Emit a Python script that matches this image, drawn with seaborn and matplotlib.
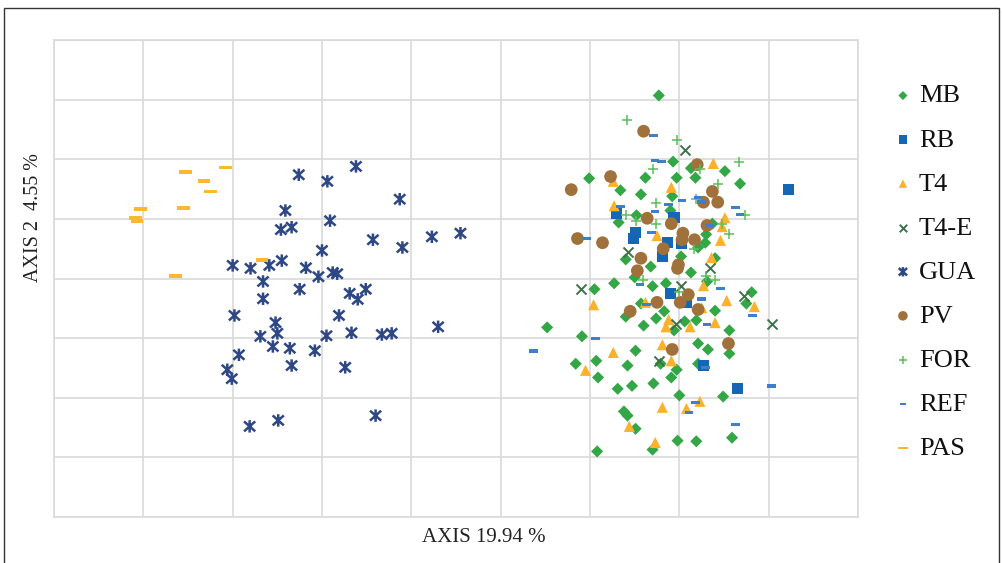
import numpy as np
import pandas as pd
import matplotlib
matplotlib.use("Agg")
import matplotlib.pyplot as plt
import matplotlib.patches as mpatches
from matplotlib.path import Path
from matplotlib.markers import MarkerStyle
import seaborn as sns

# ---------------- data (axis units) ----------------
MB_x = [-0.23, -0.38, -1.01, -0.66, -0.43, -0.07, 0.13, 0.51, -0.03, 0.18, 0.68, -0.08, -0.10, -0.48,
        -0.68, 0.37, 0.30, 0.29, 0.21, -0.60, 0.02, -0.32, -0.50, -0.30, -0.73, -0.95, -0.15, 0.13,
        0.31, 0.40, 0.81, 0.75, -0.43, -0.17, -0.60, -0.26, -0.40, 0.40, 0.19, 0.06, -0.06, 0.56,
        -1.48, -1.09, -0.49, -1.16, -0.93, -0.58, -0.91, -0.69, -0.53, -0.29, -0.09, 0.21, 0.32,
        0.56, -0.21, -0.03, 0.00, 0.49, -0.62, -0.58, -0.49, 0.59, -0.02, 0.19, -0.30, -0.92, 0.21]
MB_y = [3.07, 1.69, 1.68, 1.48, 1.41, 1.96, 1.85, 1.80, 1.69, 1.69, 1.59, 1.38, 1.14, 1.06,
        0.94, 0.92, 0.74, 0.60, 0.52, 0.32, 0.37, 0.20, 0.02, -0.13, -0.08, -0.18, -0.08, 0.10,
        -0.05, 0.34, -0.23, -0.42, -0.42, -0.55, -0.64, -0.67, -0.79, -0.54, -0.70, -0.72, -0.87, -0.87,
        -0.82, -0.97, -1.21, -1.43, -1.38, -1.46, -1.66, -1.85, -1.80, -1.76, -1.66, -1.09, -1.19,
        -1.26, -1.43, -1.53, -1.96, -1.98, -2.23, -2.30, -2.52, -2.67, -2.72, -2.73, -2.87, -2.90, -1.43]

RB_x = [1.22, -0.70, -0.06, -0.49, -0.51, -0.13, 0.02, -0.19, -0.10, 0.08, 0.27, 0.65]
RB_y = [1.49, 1.09, 1.02, 0.77, 0.67, 0.60, 0.59, 0.37, -0.25, -0.40, -1.46, -1.85]

T4_x = [-0.74, -0.73, -0.09, 0.38, 0.51, 0.48, 0.46, -0.25, 0.36, 0.27, -0.96, -0.38, 0.53, 0.84,
        0.25, 0.40, -0.15, 0.12, -0.12, -0.19, -0.09, -0.74, -1.05, 0.23, -0.19, 0.08, -0.56, -0.27]
T4_y = [1.63, 1.22, 1.53, 1.93, 1.02, 0.87, 0.64, 0.72, 0.35, -0.12, -0.44, -0.40, -0.37, -0.47,
        -0.49, -0.74, -0.81, -0.81, -0.69, -1.11, -1.38, -1.24, -1.54, -2.06, -2.16, -2.18, -2.48, -2.75]

T4E_x = [0.06, -0.57, -1.10, 0.02, 0.34, 0.72, 1.04, -0.04, -0.23]
T4E_y = [2.16, 0.44, -0.18, -0.12, 0.18, -0.30, -0.77, -0.76, -1.38]

GUA_x = [-4.41, -4.46, -4.34, -5.00, -4.80, -4.59, -4.45, -4.66, -4.66, -4.98, -4.52, -4.50, -4.69,
         -4.55, -4.36, -4.93, -4.34, -5.06, -5.01, -4.81, -4.49, -4.26, -3.94, -3.62, -3.13, -3.91,
         -3.43, -3.10, -2.77, -2.45, -4.00, -4.18, -4.04, -3.88, -3.83, -4.25, -3.69, -3.51, -3.60,
         -3.81, -2.70, -3.95, -3.67, -3.33, -3.22, -4.08, -3.74, -3.40]
GUA_y = [1.14, 0.82, 0.86, 0.22, 0.17, 0.22, 0.30, -0.05, -0.34, -0.62, -0.74, -0.92, -0.97,
         -1.14, -1.17, -1.28, -1.46, -1.53, -1.68, -2.48, -2.38, 1.74, 1.63, 1.88, 1.33, 0.97,
         0.65, 0.52, 0.70, 0.76, 0.47, 0.18, 0.03, 0.10, 0.08, -0.18, -0.25, -0.18, -0.35,
         -0.62, -0.81, -0.96, -0.91, -0.94, -0.92, -1.21, -1.49, -2.30]

PV_x = [-0.40, 0.20, -0.77, -1.21, 0.37, 0.43, 0.27, -0.36, -0.09, 0.31, 0.04, 0.03, 0.17, -0.18,
        -1.14, -0.86, -0.43, -0.47, -0.01, -0.02, 0.10, 0.01, -0.25, 0.21, -0.55, 0.55, -0.08]
PV_y = [2.47, 1.91, 1.71, 1.49, 1.46, 1.28, 1.28, 1.01, 0.92, 0.89, 0.76, 0.65, 0.65, 0.50,
        0.67, 0.60, 0.34, 0.13, 0.23, 0.17, -0.27, -0.40, -0.40, -0.52, -0.55, -1.09, -1.19]

FOR_x = [-0.59, -0.03, 0.67, -0.30, 0.23, 0.43, 0.19, -0.26, -0.60, -0.48, -0.26, 0.48, 0.56, 0.73,
         0.16, 0.30, 0.40, -0.41, 0.00]
FOR_y = [2.65, 2.33, 1.96, 1.83, 1.83, 1.59, 1.34, 1.26, 1.07, 0.97, 0.91, 0.91, 0.74, 1.07,
         0.49, 0.05, -0.03, -0.02, -0.23]

REF_x = [-0.29, -0.27, -0.20, 0.03, 0.21, 0.25, -0.12, -0.66, -0.27, 0.63, 0.68, 0.34, -0.31, -1.04,
         -0.44, 0.46, 0.25, -0.37, 0.82, 0.31, -1.63, -0.94, 0.29, 1.03, 0.18, 0.11, 0.63]
REF_y = [2.40, 1.98, 1.96, 1.31, 1.36, 1.28, 1.24, 1.21, 1.12, 1.19, 1.07, 0.89, 0.77, 0.67,
         -0.10, -0.17, -0.34, -0.44, -0.62, -0.77, -1.22, -1.01, -1.49, -1.80, -2.08, -2.25, -2.45]

PAS_x = [-5.53, -5.08, -5.32, -5.25, -6.03, -5.55, -6.09, -6.07, -4.67, -5.64]
PAS_y = [1.79, 1.86, 1.63, 1.46, 1.17, 1.18, 1.01, 0.96, 0.31, 0.04]

series_names = ["MB", "RB", "T4", "T4-E", "GUA", "PV", "FOR", "REF", "PAS"]
series_x = [MB_x, RB_x, T4_x, T4E_x, GUA_x, PV_x, FOR_x, REF_x, PAS_x]
series_y = [MB_y, RB_y, T4_y, T4E_y, GUA_y, PV_y, FOR_y, REF_y, PAS_y]

x_label = "AXIS 19.94 %"
y_label = "AXIS 2  4.55 %"

# ---------------- styles ----------------
ref_marker = [(-1.1, -0.45), (1.1, -0.45), (1.1, 0.45), (-1.1, 0.45), (-1.1, -0.45)]
pas_marker = [(-1.5, -0.45), (1.5, -0.45), (1.5, 0.45), (-1.5, 0.45), (-1.5, -0.45)]
star_path = Path([(0, -1), (0, 1), (-0.9, -0.8), (0.9, 0.8), (-0.9, 0.8), (0.9, -0.8)],
                 [Path.MOVETO, Path.LINETO, Path.MOVETO, Path.LINETO, Path.MOVETO, Path.LINETO])
star_marker = MarkerStyle(star_path, fillstyle="none")

styles = {
    "MB":   dict(marker="D", color="#33A645", s=38, lw=0),
    "RB":   dict(marker="s", color="#1567B6", s=64, lw=0),
    "T4":   dict(marker="^", color="#FDB12A", s=64, lw=0),
    "T4-E": dict(marker="x", color="#3E7049", s=52, lw=1.4),
    "GUA":  dict(marker=star_marker, color="#2E4886", s=80, lw=1.8),
    "PV":   dict(marker="o", color="#A0713A", s=84, lw=0),
    "FOR":  dict(marker="+", color="#5DBE5B", s=54, lw=1.1),
    "REF":  dict(marker=ref_marker, color="#3B80C9", s=38, lw=0),
    "PAS":  dict(marker=pas_marker, color="#FDB830", s=82, lw=0),
}

sns.set_style("white")
plt.rcParams["font.family"] = ["Liberation Serif", "DejaVu Serif"]

fig = plt.figure(figsize=(10.03, 5.63), dpi=100)
W, H = 1003, 563
ax = fig.add_axes([54 / W, 1 - 517 / H, 804 / W, 477 / H])

for i, (name, xs, ys) in enumerate(zip(series_names, series_x, series_y)):
    df = pd.DataFrame({"x": xs, "y": ys})
    st = styles[name]
    kw = dict(data=df, x="x", y="y", ax=ax, marker=st["marker"], color=st["color"],
              s=st["s"], label=name, zorder=3 + i)
    if st["lw"] == 0:
        kw.update(linewidth=0, edgecolor="none")
    else:
        kw.update(linewidth=st["lw"])
    sns.scatterplot(**kw)

ax.set_xlim(-7, 2)
ax.set_ylim(-4, 4)
ax.set_xticks(np.arange(-7, 3, 1))
ax.set_yticks(np.arange(-4, 5, 1))
ax.tick_params(left=False, bottom=False, labelleft=False, labelbottom=False)
ax.grid(True, color="#D9D9D9", lw=1.2)
ax.set_axisbelow(True)
for sp in ax.spines.values():
    sp.set_color("#D9D9D9")
    sp.set_linewidth(1.2)
ax.set_xlabel("")
ax.set_ylabel("")

fig.text(484 / W, 1 - 537 / H, x_label, ha="center", va="center", fontsize=15, color="#222222")
fig.text(33 / W, 1 - 218 / H, y_label, ha="center", va="center", rotation=90, fontsize=14.5,
         color="#222222")

leg = ax.legend(loc="upper left", bbox_to_anchor=(895 / W, 1 - 84 / H), bbox_transform=fig.transFigure,
                frameon=False, fontsize=19, handlelength=0.6, handletextpad=0.3,
                labelspacing=0.78, borderpad=0, borderaxespad=0, markerscale=0.75)
for t in leg.get_texts():
    t.set_color("#111111")

fig.add_artist(mpatches.Rectangle((4 / W, -0.1), 995 / W, (H - 8) / H + 0.1, transform=fig.transFigure,
                                  fill=False, lw=1.0, ec="#333333", clip_on=False))

fig.savefig("out.png", dpi=100)
